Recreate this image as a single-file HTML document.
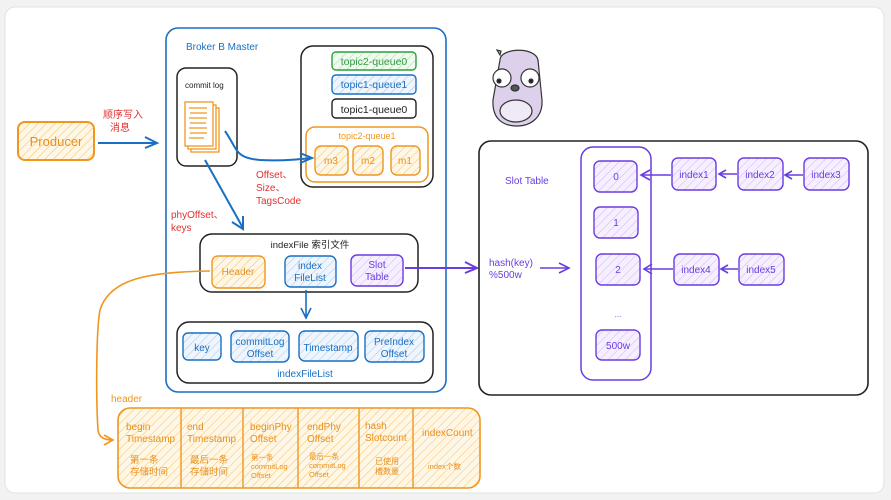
<!DOCTYPE html>
<html><head><meta charset="utf-8"><style>
html,body{margin:0;padding:0;background:#f2f2f2;}
svg{display:block;font-family:"Liberation Sans","Noto Sans CJK SC",sans-serif;}
</style></head><body>
<svg width="891" height="500" viewBox="0 0 891 500" xmlns="http://www.w3.org/2000/svg">
<defs>
<pattern id="ho" width="6" height="6" patternUnits="userSpaceOnUse" patternTransform="rotate(45)"><rect width="6" height="6" fill="#fff7e6"/><line x1="0" y1="0" x2="0" y2="6" stroke="#f5c070" stroke-width="1"/></pattern>
<pattern id="hb" width="6" height="6" patternUnits="userSpaceOnUse" patternTransform="rotate(45)"><rect width="6" height="6" fill="#eef5fc"/><line x1="0" y1="0" x2="0" y2="6" stroke="#a8c8ec" stroke-width="1"/></pattern>
<pattern id="hg" width="6" height="6" patternUnits="userSpaceOnUse" patternTransform="rotate(45)"><rect width="6" height="6" fill="#f0faf0"/><line x1="0" y1="0" x2="0" y2="6" stroke="#a8dca8" stroke-width="1"/></pattern>
<pattern id="hp" width="6" height="6" patternUnits="userSpaceOnUse" patternTransform="rotate(45)"><rect width="6" height="6" fill="#f6efff"/><line x1="0" y1="0" x2="0" y2="6" stroke="#d2b4f4" stroke-width="1"/></pattern>
</defs>
<rect x="5" y="7" width="879" height="486" rx="10" fill="#fff" stroke="#e2e2e2"/>

<!-- Producer -->
<rect x="18" y="122" width="76" height="38" rx="7" fill="url(#ho)" stroke="#f0961e" stroke-width="2"/>
<text x="56" y="146" fill="#e8901a" font-size="13" text-anchor="middle">Producer</text>
<text x="103" y="118" fill="#e03030" font-size="10">顺序写入</text>
<text x="110" y="131" fill="#e03030" font-size="10">消息</text>
<g stroke="#1a6fc4" stroke-width="2" fill="none"><line x1="98" y1="143" x2="156" y2="143"/><polyline points="145,137 157,143 145,148"/></g>

<!-- Broker -->
<rect x="166" y="28" width="280" height="364" rx="12" fill="none" stroke="#1a6fc4" stroke-width="1.6"/>
<text x="186" y="50" fill="#1a6fc4" font-size="10">Broker B Master</text>

<rect x="177" y="68" width="60" height="98" rx="9" fill="none" stroke="#222" stroke-width="1.5"/>
<text x="185" y="88" fill="#222" font-size="8">commit log</text>
<g stroke="#f0961e" stroke-width="1.3" fill="#fff">
<rect x="191" y="108" width="28" height="44"/><rect x="188" y="105" width="28" height="44"/><rect x="185" y="102" width="28" height="44"/>
<path d="M189 108h18M190 113h17M189 118h18M190 123h16M189 128h18M190 133h17M189 138h15" fill="none"/>
</g>

<!-- queues -->
<rect x="301" y="46" width="132" height="141" rx="12" fill="none" stroke="#222" stroke-width="1.5"/>
<rect x="332" y="52" width="84" height="18" rx="4" fill="url(#hg)" stroke="#2e9e3e" stroke-width="1.4"/>
<text x="374" y="65" fill="#2e9e3e" font-size="10.5" text-anchor="middle">topic2-queue0</text>
<rect x="332" y="75" width="84" height="19" rx="4" fill="url(#hb)" stroke="#1a6fc4" stroke-width="1.4"/>
<text x="374" y="88" fill="#1a6fc4" font-size="10.5" text-anchor="middle">topic1-queue1</text>
<rect x="332" y="99" width="84" height="19" rx="4" fill="#fff" stroke="#222" stroke-width="1.4"/>
<text x="374" y="113" fill="#222" font-size="10.5" text-anchor="middle">topic1-queue0</text>
<rect x="306" y="127" width="122" height="55" rx="9" fill="none" stroke="#f0961e" stroke-width="1.5"/>
<text x="367" y="139" fill="#f0961e" font-size="9" text-anchor="middle">topic2-queue1</text>
<g stroke="#f0961e" stroke-width="1.4" fill="url(#ho)">
<rect x="315" y="146" width="33" height="29" rx="6"/><rect x="353" y="146" width="30" height="29" rx="6"/><rect x="391" y="146" width="29" height="29" rx="6"/></g>
<g fill="#e8901a" font-size="10" text-anchor="middle"><text x="331" y="164">m3</text><text x="368" y="164">m2</text><text x="405" y="164">m1</text></g>

<g stroke="#1a6fc4" stroke-width="2" fill="none">
<path d="M225 131 C238 150 235 158 260 160 C280 161 295 160 311 158"/><polyline points="300,153 312,158 300,163"/>
<line x1="205" y1="160" x2="243" y2="228"/><polyline points="232,222 243,229 243,216"/>
</g>
<g fill="#e03030" font-size="10"><text x="256" y="178">Offset、</text><text x="256" y="191">Size、</text><text x="256" y="204">TagsCode</text>
<text x="171" y="218">phyOffset、</text><text x="171" y="231">keys</text></g>

<!-- indexFile -->
<rect x="200" y="234" width="218" height="58" rx="12" fill="none" stroke="#222" stroke-width="1.5"/>
<text x="310" y="248" fill="#222" font-size="9.5" text-anchor="middle">indexFile 索引文件</text>
<rect x="212" y="256" width="53" height="32" rx="6" fill="url(#ho)" stroke="#f0961e" stroke-width="1.4"/>
<text x="238" y="275" fill="#e8901a" font-size="10" text-anchor="middle">Header</text>
<rect x="285" y="256" width="51" height="31" rx="6" fill="url(#hb)" stroke="#1a6fc4" stroke-width="1.4"/>
<text x="310" y="269" fill="#1a6fc4" font-size="10" text-anchor="middle">index</text><text x="310" y="281" fill="#1a6fc4" font-size="10" text-anchor="middle">FileList</text>
<rect x="351" y="255" width="52" height="31" rx="6" fill="url(#hp)" stroke="#6a3de0" stroke-width="1.4"/>
<text x="377" y="268" fill="#6a3de0" font-size="10" text-anchor="middle">Slot</text><text x="377" y="280" fill="#6a3de0" font-size="10" text-anchor="middle">Table</text>
<g stroke="#1a6fc4" stroke-width="1.6" fill="none"><line x1="306" y1="290" x2="306" y2="318"/><polyline points="301,308 306,318 311,308"/></g>

<rect x="177" y="322" width="256" height="61" rx="12" fill="none" stroke="#222" stroke-width="1.5"/>
<g stroke="#1a6fc4" stroke-width="1.4" fill="url(#hb)">
<rect x="183" y="333" width="38" height="27" rx="5"/><rect x="231" y="331" width="58" height="31" rx="6"/><rect x="299" y="331" width="59" height="30" rx="6"/><rect x="365" y="331" width="59" height="31" rx="6"/></g>
<g fill="#1a6fc4" font-size="10" text-anchor="middle">
<text x="202" y="351">key</text><text x="260" y="345">commitLog</text><text x="260" y="357">Offset</text>
<text x="328" y="351">Timestamp</text><text x="394" y="345">PreIndex</text><text x="394" y="357">Offset</text>
<text x="305" y="377">indexFileList</text></g>

<g stroke="#6a3de0" stroke-width="2" fill="none"><line x1="405" y1="268" x2="476" y2="268"/><polyline points="465,262 477,268 465,273"/></g>

<!-- header curve -->
<g stroke="#f0961e" stroke-width="1.6" fill="none">
<path d="M210 271 C150 272 110 278 100 310 C96 330 96 400 98 430 C99 438 105 440 113 440"/>
<polyline points="104,435 113,440 104,445"/></g>
<text x="111" y="402" fill="#f0961e" font-size="10">header</text>

<rect x="118" y="408" width="362" height="80" rx="12" fill="url(#ho)" stroke="#f0961e" stroke-width="1.6"/>
<g stroke="#f0961e" stroke-width="1.4"><line x1="181" y1="408" x2="181" y2="488"/><line x1="243" y1="408" x2="243" y2="488"/><line x1="298" y1="408" x2="298" y2="488"/><line x1="359" y1="408" x2="359" y2="488"/><line x1="413" y1="408" x2="413" y2="488"/></g>
<g fill="#e8901a" font-size="10">
<text x="126" y="430">begin</text><text x="126" y="442">Timestamp</text>
<text x="130" y="463" font-size="9.5">第一条</text><text x="130" y="475" font-size="9.5">存储时间</text>
<text x="187" y="430">end</text><text x="187" y="442">Timestamp</text>
<text x="190" y="463" font-size="9.5">最后一条</text><text x="190" y="475" font-size="9.5">存储时间</text>
<text x="250" y="430">beginPhy</text><text x="250" y="442">Offset</text>
<text x="251" y="460" font-size="7.5">第一条</text><text x="251" y="469" font-size="7.5">commitLog</text><text x="251" y="478" font-size="7.5">Offset</text>
<text x="307" y="430">endPhy</text><text x="307" y="442">Offset</text>
<text x="309" y="459" font-size="7.5">最后一条</text><text x="309" y="468" font-size="7.5">commitLog</text><text x="309" y="477" font-size="7.5">Offset</text>
<text x="365" y="429">hash</text><text x="365" y="441">Slotcount</text>
<text x="375" y="464" font-size="8">已使用</text><text x="375" y="474" font-size="8">槽数量</text>
<text x="422" y="436">indexCount</text>
<text x="428" y="469" font-size="7.5">index个数</text>
</g>

<!-- gopher -->
<g stroke="#333" stroke-width="1.2">
<path d="M500 60 C500 48 535 46 538 60 L542 100 C543 118 530 126 517 126 C502 126 492 118 493 100 Z" fill="#dcd0ea"/>
<ellipse cx="516" cy="111" rx="16" ry="11" fill="#efeaf6"/>
<circle cx="502" cy="78" r="9" fill="#fff"/><circle cx="530" cy="78" r="9" fill="#fff"/>
<circle cx="499" cy="81" r="2" fill="#222"/><circle cx="531" cy="81" r="2" fill="#222"/>
<ellipse cx="515" cy="88" rx="4" ry="3" fill="#555"/>
<path d="M500 55 l-3 -5 l4 1z" fill="#9fd09f"/>
</g>

<!-- Slot table -->
<rect x="479" y="141" width="389" height="254" rx="12" fill="none" stroke="#222" stroke-width="1.6"/>
<text x="505" y="184" fill="#6a3de0" font-size="10">Slot Table</text>
<text x="489" y="266" fill="#6a3de0" font-size="10">hash(key)</text><text x="489" y="278" fill="#6a3de0" font-size="10">%500w</text>
<g stroke="#6a3de0" stroke-width="1.6" fill="none"><line x1="540" y1="268" x2="569" y2="268"/><polyline points="559,263 569,268 559,273"/></g>
<rect x="581" y="147" width="70" height="233" rx="12" fill="none" stroke="#6a3de0" stroke-width="1.5"/>
<g stroke="#6a3de0" stroke-width="1.4" fill="url(#hp)">
<rect x="594" y="161" width="43" height="31" rx="6"/><rect x="594" y="207" width="44" height="31" rx="6"/><rect x="596" y="254" width="44" height="31" rx="6"/><rect x="596" y="330" width="44" height="30" rx="6"/>
<rect x="672" y="158" width="44" height="32" rx="6"/><rect x="738" y="158" width="45" height="32" rx="6"/><rect x="804" y="158" width="45" height="32" rx="6"/>
<rect x="674" y="254" width="45" height="31" rx="6"/><rect x="739" y="254" width="45" height="31" rx="6"/></g>
<g fill="#6a3de0" font-size="10" text-anchor="middle">
<text x="616" y="180">0</text><text x="616" y="226">1</text><text x="618" y="273">2</text><text x="618" y="317" font-size="8">...</text><text x="618" y="349">500w</text>
<text x="694" y="178">index1</text><text x="760" y="178">index2</text><text x="826" y="178">index3</text>
<text x="696" y="273">index4</text><text x="761" y="273">index5</text></g>
<g stroke="#6a3de0" stroke-width="1.6" fill="none">
<line x1="671" y1="175" x2="641" y2="175"/><polyline points="650,170 641,175 650,180"/>
<line x1="737" y1="174" x2="719" y2="174"/><polyline points="726,170 719,174 726,178"/>
<line x1="803" y1="175" x2="785" y2="175"/><polyline points="792,171 785,175 792,179"/>
<line x1="673" y1="269" x2="644" y2="269"/><polyline points="652,264 644,269 652,274"/>
<line x1="738" y1="269" x2="721" y2="269"/><polyline points="728,265 721,269 728,273"/>
</g>
</svg>
</body></html>
